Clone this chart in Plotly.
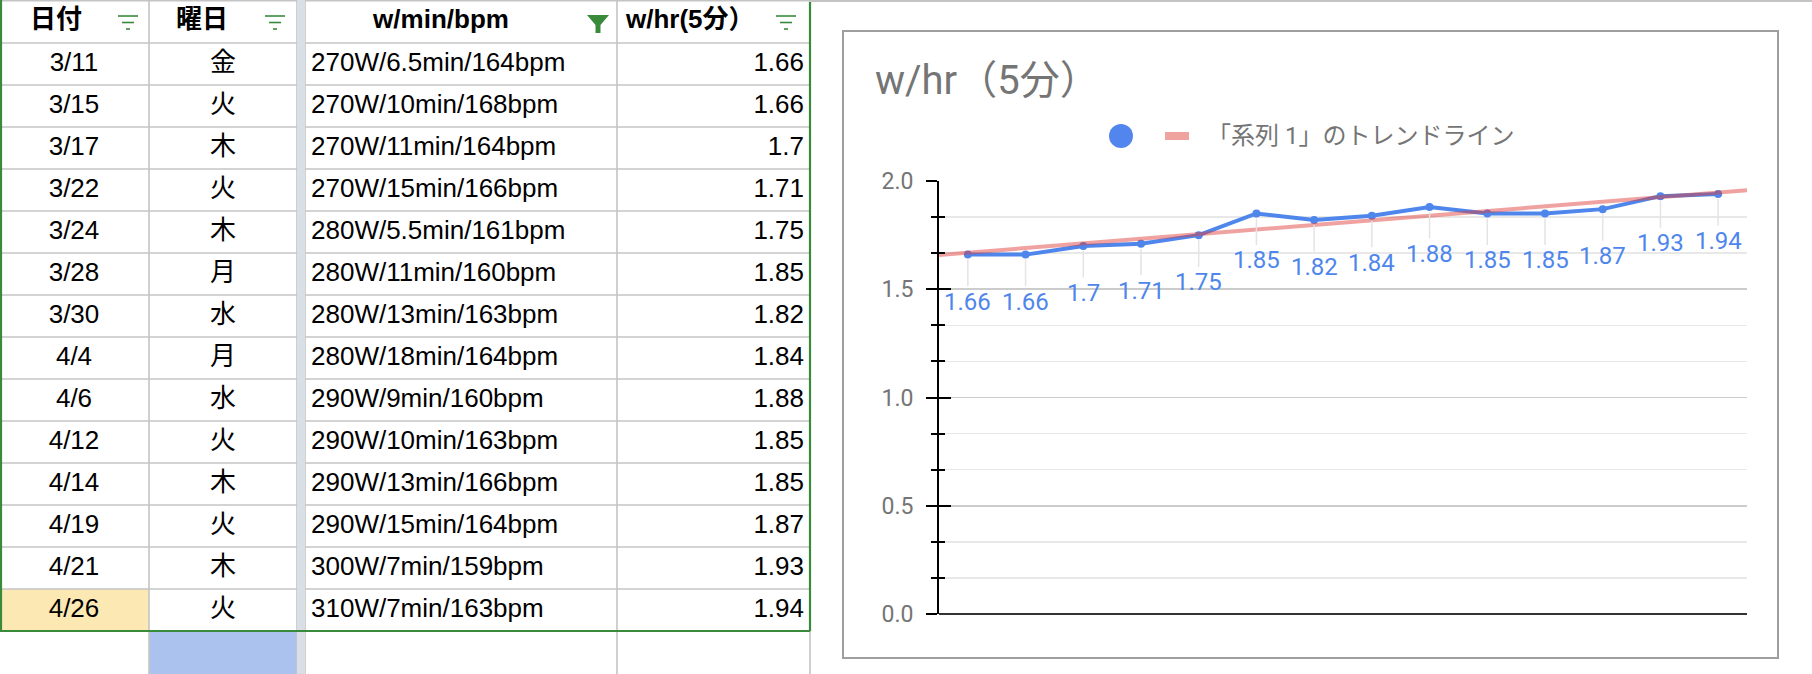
import numpy as np
import plotly.graph_objects as go

# ---------------- data ----------------
dates = ["3/11", "3/15", "3/17", "3/22", "3/24", "3/28", "3/30",
         "4/4", "4/6", "4/12", "4/14", "4/19", "4/21", "4/26"]
weekdays = ["金", "火", "木", "火", "木", "月", "水", "月", "水", "火", "木", "火", "木", "火"]
workouts = ["270W/6.5min/164bpm", "270W/10min/168bpm", "270W/11min/164bpm",
            "270W/15min/166bpm", "280W/5.5min/161bpm", "280W/11min/160bpm",
            "280W/13min/163bpm", "280W/18min/164bpm", "290W/9min/160bpm",
            "290W/10min/163bpm", "290W/13min/166bpm", "290W/15min/164bpm",
            "300W/7min/159bpm", "310W/7min/163bpm"]
w_hr = [1.66, 1.66, 1.7, 1.71, 1.75, 1.85, 1.82, 1.84, 1.88, 1.85, 1.85, 1.87, 1.93, 1.94]
headers = ["日付", "曜日", "w/min/bpm", "w/hr(5分）"]
chart_title = "w/hr（5分）"
legend_label = "「系列 1」のトレンドライン"
y_tick_vals = [0.0, 0.5, 1.0, 1.5, 2.0]
y_tick_text = ["0.0", "0.5", "1.0", "1.5", "2.0"]

# ---------------- layout constants ----------------
W, H = 1812, 674
COL_EDGES = [0, 149, 297, 305, 617, 810]
HEADER_H, ROW_H = 43, 42
TABLE_W = 812
GRID = "#c4c4c4"
GREEN = "#3a8a3c"
GAP = "#dadee7"
BLUE = "#4e86ec"
TREND = "rgba(222,60,56,0.48)"
GRAY_TXT = "#757575"
F_TABLE = "Liberation Sans, Arial, Noto Sans CJK JP, sans-serif"
F_CHART = "Roboto, Noto Sans CJK JP, sans-serif"
T_SIZE = 26


def px(x):
    return x / W


def py(y):
    return 1 - y / H


n = len(w_hr)
row_centers = [HEADER_H + ROW_H * i + ROW_H / 2 for i in range(n)]

fig = go.Figure()

# ---------------- table (on its own pixel-scaled axes) ----------------
tx = dict(xaxis="x2", yaxis="y2", mode="text", hoverinfo="skip", showlegend=False, cliponaxis=False)
tfont = dict(family=F_TABLE, size=T_SIZE, color="#000")
fig.add_trace(go.Scatter(x=[74] * n, y=row_centers, text=dates, textposition="middle center",
                         textfont=tfont, **tx))
fig.add_trace(go.Scatter(x=[223] * n, y=row_centers, text=weekdays, textposition="middle center",
                         textfont=tfont, **tx))
fig.add_trace(go.Scatter(x=[311] * n, y=row_centers, text=workouts, textposition="middle right",
                         textfont=tfont, **tx))
fig.add_trace(go.Scatter(x=[804] * n, y=row_centers, text=[f"{v:g}" for v in w_hr],
                         textposition="middle left", textfont=tfont, **tx))
hdr_x = [56, 202, 441, 626]
hdr_pos = ["middle center", "middle center", "middle center", "middle right"]
for hx, ht, hp in zip(hdr_x, headers, hdr_pos):
    fig.add_trace(go.Scatter(x=[hx], y=[HEADER_H / 2], text=[f"<b>{ht}</b>"], textposition=hp,
                             textfont=tfont, **tx))

shapes = []
t_ref = dict(xref="x2", yref="y2")
# cell fills
last_top = HEADER_H + ROW_H * (n - 1)
shapes.append(dict(type="rect", x0=COL_EDGES[0], x1=COL_EDGES[1], y0=last_top, y1=last_top + ROW_H,
                   fillcolor="#fce8b3", line=dict(width=0), layer="below", **t_ref))
empty_top = HEADER_H + ROW_H * n
shapes.append(dict(type="rect", x0=COL_EDGES[1], x1=COL_EDGES[2], y0=empty_top, y1=H,
                   fillcolor="#abc2ef", line=dict(width=0), layer="below", **t_ref))
# horizontal grid lines
row_lines = [0.8, HEADER_H] + [HEADER_H + ROW_H * (i + 1) for i in range(n)]
for yl in row_lines:
    for a, b in [(COL_EDGES[0], COL_EDGES[2]), (COL_EDGES[3], COL_EDGES[5])]:
        shapes.append(dict(type="line", x0=a, x1=b, y0=yl, y1=yl,
                           line=dict(color=GRID, width=1.6), **t_ref))
# vertical grid lines
for xl in COL_EDGES[1:]:
    shapes.append(dict(type="line", x0=xl, x1=xl, y0=0, y1=H, line=dict(color=GRID, width=1.6), **t_ref))
# frozen column divider
shapes.append(dict(type="rect", x0=COL_EDGES[2], x1=COL_EDGES[3], y0=0, y1=H,
                   fillcolor=GAP, line=dict(width=0), **t_ref))
# green range border
shapes.append(dict(type="line", x0=1, x1=1, y0=0, y1=empty_top, line=dict(color=GREEN, width=2.2), **t_ref))
shapes.append(dict(type="line", x0=COL_EDGES[5], x1=COL_EDGES[5], y0=2, y1=empty_top,
                   line=dict(color=GREEN, width=2.2), **t_ref))
shapes.append(dict(type="line", x0=0, x1=COL_EDGES[5], y0=empty_top, y1=empty_top,
                   line=dict(color=GREEN, width=2.2), **t_ref))
# filter icons
for cx in [128, 275, 786]:
    for yy, half in [(16, 10), (22.5, 6), (29, 2)]:
        shapes.append(dict(type="line", x0=cx - half, x1=cx + half, y0=yy, y1=yy,
                           line=dict(color=GREEN, width=1.6), **t_ref))
shapes.append(dict(type="path", path="M 587 15 L 609 15 L 600.5 25 L 600.5 33 L 595.5 33 L 595.5 25 Z",
                   fillcolor=GREEN, line=dict(width=0), **t_ref))

# top sheet line & chart frame
shapes.append(dict(type="line", xref="paper", yref="paper", x0=px(TABLE_W - 2), x1=1, y0=py(1), y1=py(1),
                   line=dict(color=GRID, width=2)))
shapes.append(dict(type="rect", xref="paper", yref="paper", x0=px(843), x1=px(1778), y0=py(658), y1=py(31),
                   line=dict(color="#9e9e9e", width=2), layer="below"))
# custom legend symbols
shapes.append(dict(type="circle", xref="paper", yref="paper", x0=px(1109), x1=px(1133), y0=py(148), y1=py(124),
                   fillcolor="#5286ee", line=dict(width=0)))
shapes.append(dict(type="rect", xref="paper", yref="paper", x0=px(1165), x1=px(1189), y0=py(140), y1=py(132),
                   fillcolor="#f0a29e", line=dict(width=0)))

# ---------------- chart ----------------
x_idx = np.arange(n)
slope, intercept = np.polyfit(x_idx, w_hr, 1)
x_tr = np.array([-0.5, n - 0.5])
y_tr = slope * x_tr + intercept

fig.add_trace(go.Scatter(x=x_idx, y=w_hr, mode="lines+markers", customdata=dates,
                         line=dict(color=BLUE, width=4), marker=dict(size=8, color=BLUE),
                         hoverinfo="skip", showlegend=False, xaxis="x", yaxis="y"))
fig.add_trace(go.Scatter(x=x_tr, y=y_tr, mode="lines", line=dict(color=TREND, width=4),
                         hoverinfo="skip", showlegend=False, xaxis="x", yaxis="y", cliponaxis=False))
fig.add_trace(go.Scatter(x=[0], y=[0], mode="markers", marker=dict(opacity=0), hoverinfo="skip",
                         showlegend=False, xaxis="x", yaxis="y3"))

annotations = []
for i, v in enumerate(w_hr):
    annotations.append(dict(x=i, y=v, xref="x", yref="y", text=f"{v:g}", showarrow=True,
                            arrowhead=0, arrowwidth=1.5, arrowcolor="#e4e4e4", ax=0, ay=47, standoff=5,
                            font=dict(family=F_CHART, size=24, color=BLUE)))
annotations.append(dict(x=px(873), y=py(80), xref="paper", yref="paper", text=chart_title, showarrow=False,
                        xanchor="left", yanchor="middle", font=dict(family=F_CHART, size=40, color=GRAY_TXT)))
annotations.append(dict(x=px(1205), y=py(136), xref="paper", yref="paper", text=legend_label, showarrow=False,
                        xanchor="left", yanchor="middle", font=dict(family=F_CHART, size=24, color=GRAY_TXT)))

y_dom = [py(614), py(181)]
fig.update_layout(
    width=W, height=H, autosize=False,
    margin=dict(l=0, r=0, t=0, b=0, pad=0, autoexpand=False),
    paper_bgcolor="white", plot_bgcolor="white",
    showlegend=False, hovermode=False,
    shapes=shapes, annotations=annotations,
    xaxis=dict(domain=[px(939), px(1747)], range=[-0.5, n - 0.5], visible=False, fixedrange=True,
               automargin=False),
    yaxis=dict(domain=y_dom, range=[0, 2], anchor="x", tickmode="array", tickvals=y_tick_vals,
               ticktext=y_tick_text, ticks="outside", ticklen=11, tickwidth=2, tickcolor="black",
               showline=True, linecolor="black", linewidth=2,
               showgrid=True, gridcolor="#cccccc", gridwidth=1.6,
               zeroline=True, zerolinecolor="#333333", zerolinewidth=2.5,
               minor=dict(tickmode="linear", tick0=0, dtick=0.5 / 3, ticks="outside", ticklen=6,
                          tickwidth=2, tickcolor="black", showgrid=True, gridcolor="#e8e8e8", gridwidth=1.6),
               tickfont=dict(family=F_CHART, size=23, color=GRAY_TXT), ticklabelstandoff=8,
               automargin=False, fixedrange=True),
    yaxis3=dict(domain=y_dom, range=[0, 2], anchor="x", overlaying="y", side="left",
                tickmode="linear", tick0=0, dtick=0.5, ticks="inside", ticklen=12, tickwidth=2,
                tickcolor="black", showticklabels=False, showgrid=False, zeroline=False, showline=False,
                minor=dict(tickmode="linear", tick0=0, dtick=0.5 / 3, ticks="inside", ticklen=6,
                           tickwidth=2, tickcolor="black", showgrid=False),
                automargin=False, fixedrange=True),
    xaxis2=dict(domain=[0, px(TABLE_W)], range=[0, TABLE_W], visible=False, anchor="y2",
                automargin=False, fixedrange=True),
    yaxis2=dict(domain=[0, 1], range=[H, 0], visible=False, anchor="x2", automargin=False, fixedrange=True),
)

page_fix = (
    "var d=document.getElementById('{plot_id}');"
    "d.style.position='fixed';d.style.left='0px';d.style.top='0px';"
    "var r=document.documentElement,b=document.body;"
    "r.style.margin='0';b.style.margin='0';b.style.padding='0';"
    "r.style.height='674px';b.style.height='674px';"
    "r.style.overflow='hidden';b.style.overflow='hidden';"
)

fig.write_html(
    "out.html",
    config={"displayModeBar": False, "staticPlot": True},
    post_script=page_fix,
)
